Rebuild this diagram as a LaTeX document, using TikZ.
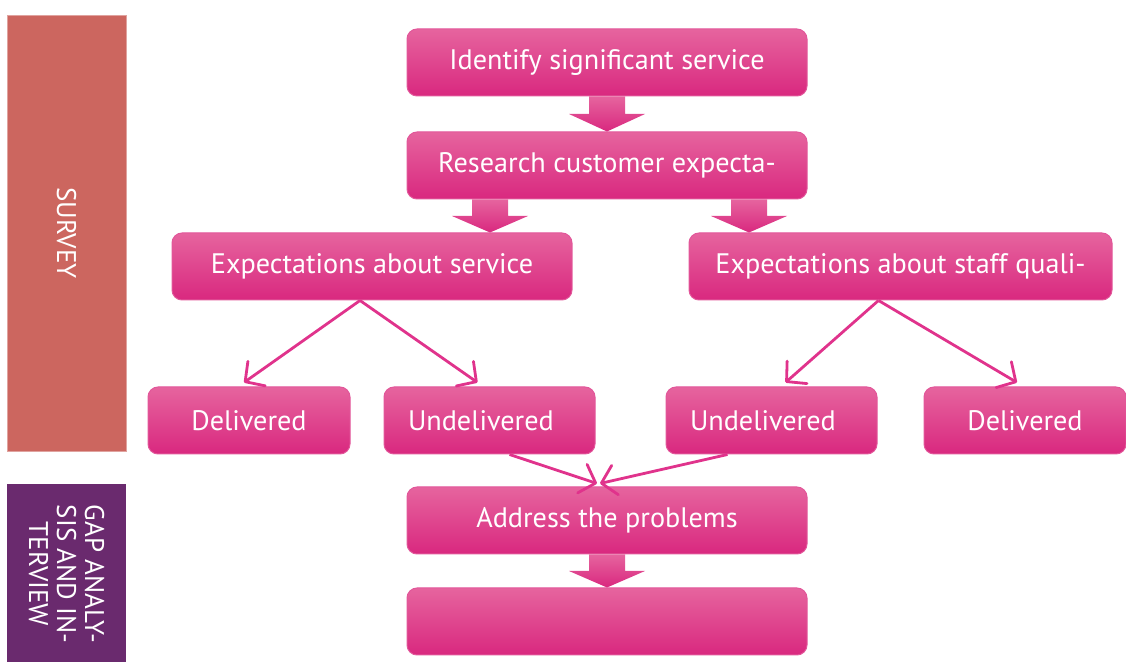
\documentclass[tikz,border=0pt]{standalone}
\usepackage{fontspec}
\setmainfont{PT Sans}
\usetikzlibrary{arrows.meta,calc}

\definecolor{boxtop}{HTML}{E6649E}
\definecolor{boxmid}{HTML}{E42A87}
\definecolor{boxbot}{HTML}{D9287F}
\definecolor{boxedge}{HTML}{E2579A}
\definecolor{linkpink}{HTML}{E0338C}
\definecolor{surveyred}{HTML}{CC665F}
\definecolor{gappurple}{HTML}{6A2A6E}

% thick block arrow from a point straight down to the top of a node
\newcommand{\blockarrow}[2]{%
  \path[blockfill] let \p1=(#1), \p2=(#2.north) in
    (\x1-9pt,\y1) -- (\x1-9pt,{0.5*(\y1+\y2)}) -- (\x1-19pt,{0.5*(\y1+\y2)})
    -- (\x1,\y2) -- (\x1+19pt,{0.5*(\y1+\y2)}) -- (\x1+9pt,{0.5*(\y1+\y2)})
    -- (\x1+9pt,\y1) -- cycle;}

\begin{document}
\begin{tikzpicture}[x=0.5pt,y=-0.5pt,
stepbox/.style={rectangle,rounded corners=5pt,draw=boxedge,line width=0.5pt,
  top color=boxtop,middle color=boxmid,bottom color=boxbot,text=white,
  font=\fontsize{14.1}{16}\selectfont,minimum height=33.5pt,inner sep=0pt},
widebox/.style={stepbox,minimum width=200pt},
smallbox/.style={stepbox,minimum width=101pt},
leftbox/.style={stepbox,text width=81.5pt,inner xsep=12pt,align=left},
blockfill/.style={top color=boxtop,middle color=boxmid,bottom color=boxbot},
link/.style={draw=linkpink,line width=1.4pt,-{Straight Barb[length=7pt,width=15pt,round]}},
band/.style={rectangle,rotate=-90,text=white,inner sep=0pt,align=center,
  font=\fontsize{13.5}{14}\selectfont}]

\useasboundingbox (0,0) rectangle (1126,662);

% phase bands on the left
\node[band,fill=surveyred,draw=surveyred!60!white,line width=0.4pt,
  minimum width=218pt,minimum height=59.5pt] (survey) at (66.5,233) {SURVEY};
\node[band,fill=gappurple,minimum width=90pt,minimum height=59.5pt]
  (gap) at (66.5,574) {GAP ANALY-\\SIS AND IN-\\TERVIEW};

% steps
\node[widebox] (ident) at (607,62.5) {Identify significant service};
\node[widebox] (research) at (607,165.5) {Research customer expecta-};
\node[widebox] (servexp) at (372,266.5) {Expectations about service};
\node[stepbox,minimum width=211.5pt] (staffexp) at (900.5,266.5) {Expectations about staff quali-};

\node[smallbox] (deliv1) at (249,420.5) {Delivered};
\node[leftbox] (undeliv1) at (489.5,420.5) {Undelivered};
\node[leftbox] (undeliv2) at (771.5,420.5) {Undelivered};
\node[smallbox] (deliv2) at (1025,420.5) {Delivered};

\node[widebox] (address) at (607,520.5) {Address the problems};
\node[widebox] (outcome) at (607,621.5) {};

% block arrows
\blockarrow{ident.south}{research}
\blockarrow{$(research.south)+(-117,0)$}{servexp}
\blockarrow{$(research.south)+(142,0)$}{staffexp}
\blockarrow{address.south}{outcome}

% thin arrows
\draw[link] ($(servexp.south)+(-12,0)$) -- ($(deliv1.north)+(-5,-4)$);
\draw[link] ($(servexp.south)+(-12,0)$) -- ($(undeliv1.north)+(-12,-4)$);
\draw[link] ($(staffexp.south)+(-22,0)$) -- ($(undeliv2.north)+(14,-4)$);
\draw[link] ($(staffexp.south)+(-22,0)$) -- ($(deliv2.north)+(-8,-4)$);
\draw[link] ($(undeliv1.south)+(20,0)$) -- ($(address.north)+(-10,-3)$);
\draw[link] ($(undeliv2.south)+(-44,0)$) -- ($(address.north)+(-7,-3)$);
\end{tikzpicture}
\end{document}
